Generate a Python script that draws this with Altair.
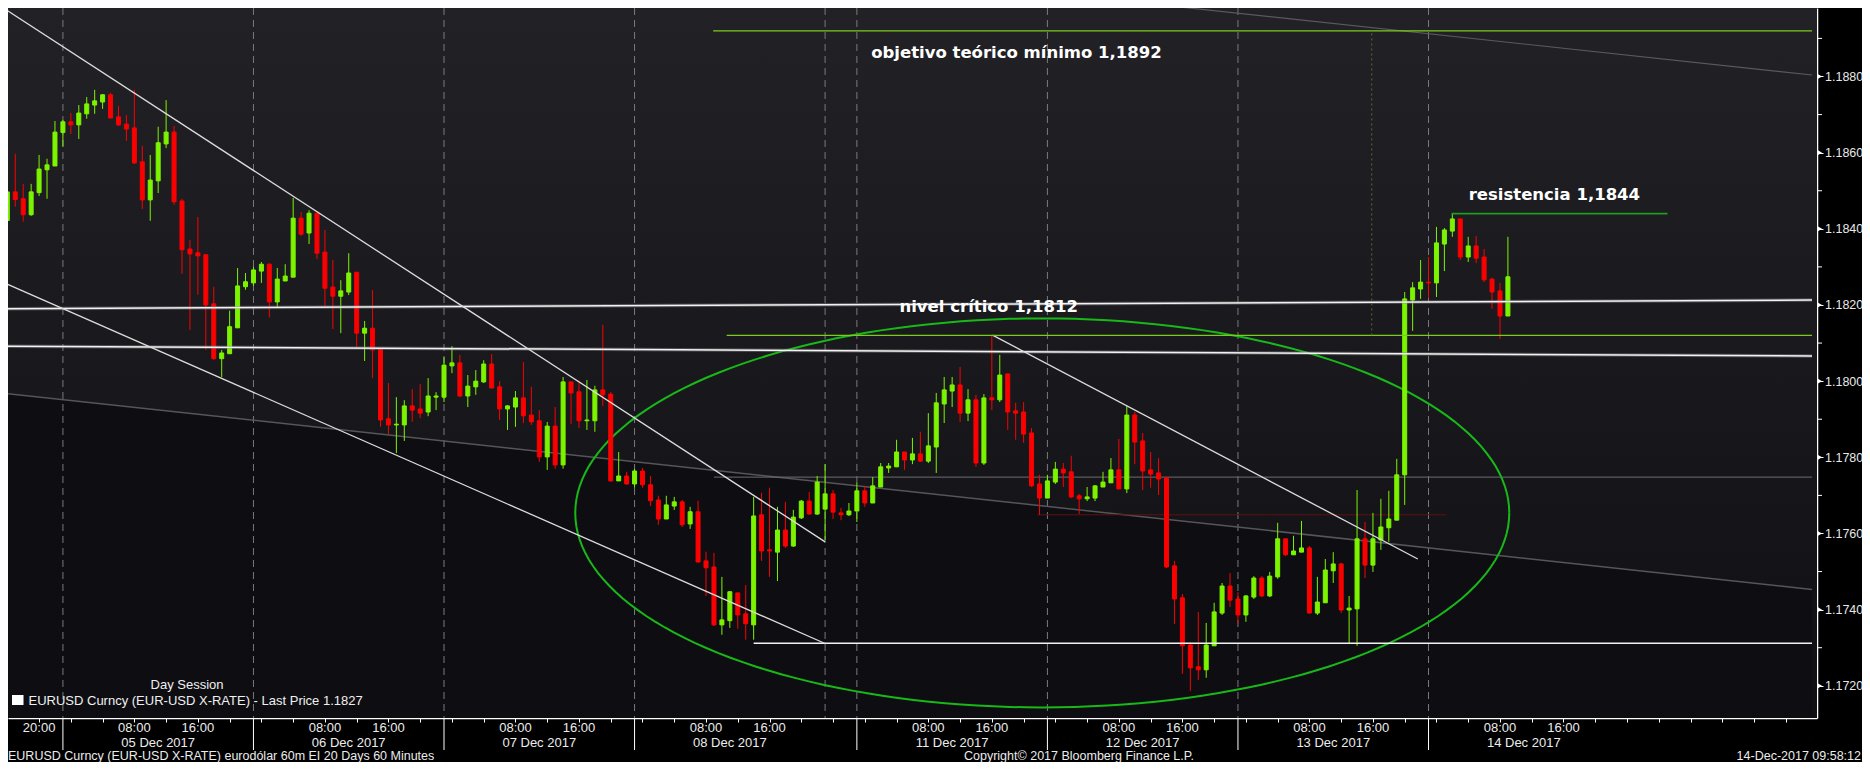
import numpy as np
import pandas as pd
import altair as alt

# ---------------- data (EURUSD 60m candles) ----------------
opens = [
1.18422, 1.18497, 1.18479, 1.18437, 1.18495, 1.18555, 1.18565, 1.18653, 1.18681, 1.18673,
1.18702, 1.18725, 1.18733, 1.18752, 1.18694, 1.18675, 1.18665, 1.18576, 1.18476, 1.18526,
1.18623, 1.18654, 1.18473, 1.18347, 1.18337, 1.18332, 1.18203, 1.18059, 1.18072, 1.18140,
1.18248, 1.18258, 1.18289, 1.18307, 1.18208, 1.18263, 1.18273, 1.18428, 1.18389, 1.18441,
1.18339, 1.18247, 1.18223, 1.18234, 1.18286, 1.18126, 1.18139, 1.18084, 1.17901, 1.17885,
1.17885, 1.17935, 1.17927, 1.17919, 1.17958, 1.17958, 1.18040, 1.18048, 1.17961, 1.17985,
1.17998, 1.18045, 1.17985, 1.17927, 1.17932, 1.17956, 1.17911, 1.17896, 1.17801, 1.17882,
1.17780, 1.17998, 1.17972, 1.17896, 1.17896, 1.17977, 1.17966, 1.17738, 1.17751, 1.17730,
1.17764, 1.17728, 1.17688, 1.17638, 1.17672, 1.17683, 1.17625, 1.17657, 1.17528, 1.17512,
1.17360, 1.17371, 1.17444, 1.17389, 1.17360, 1.17649, 1.17557, 1.17551, 1.17609, 1.17567,
1.17641, 1.17685, 1.17651, 1.17664, 1.17704, 1.17654, 1.17649, 1.17659, 1.17712, 1.17680,
1.17722, 1.17772, 1.17775, 1.17814, 1.17793, 1.17809, 1.17790, 1.17827, 1.17940, 1.17974,
1.17990, 1.17916, 1.17951, 1.17785, 1.17956, 1.17951, 1.18019, 1.17922, 1.17919, 1.17864,
1.17730, 1.17693, 1.17735, 1.17769, 1.17762, 1.17699, 1.17691, 1.17693, 1.17722, 1.17733,
1.17767, 1.17717, 1.17911, 1.17843, 1.17767, 1.17759, 1.17746, 1.17515, 1.17431, 1.17307,
1.17250, 1.17242, 1.17305, 1.17391, 1.17462, 1.17428, 1.17386, 1.17433, 1.17483, 1.17436,
1.17486, 1.17586, 1.17544, 1.17551, 1.17562, 1.17391, 1.17418, 1.17502, 1.17520, 1.17399,
1.17402, 1.17586, 1.17517, 1.17583, 1.17615, 1.17635, 1.17754, 1.18213, 1.18242, 1.18260,
1.18258, 1.18360, 1.18394, 1.18426, 1.18326, 1.18355, 1.18326, 1.18268, 1.18237, 1.18171,
]
highs = [
1.18529, 1.18597, 1.18518, 1.18518, 1.18594, 1.18584, 1.18683, 1.18686, 1.18704, 1.18725,
1.18746, 1.18765, 1.18754, 1.18757, 1.18723, 1.18699, 1.18765, 1.18618, 1.18594, 1.18668,
1.18738, 1.18670, 1.18479, 1.18371, 1.18431, 1.18332, 1.18248, 1.18082, 1.18185, 1.18297,
1.18284, 1.18300, 1.18313, 1.18310, 1.18297, 1.18307, 1.18481, 1.18444, 1.18449, 1.18441,
1.18397, 1.18318, 1.18265, 1.18336, 1.18286, 1.18158, 1.18239, 1.18084, 1.17995, 1.17958,
1.17950, 1.17979, 1.17992, 1.18008, 1.17971, 1.18063, 1.18092, 1.18069, 1.18016, 1.18029,
1.18055, 1.18071, 1.18000, 1.17937, 1.17974, 1.18050, 1.17985, 1.17924, 1.17893, 1.17932,
1.18011, 1.17998, 1.18001, 1.18003, 1.17988, 1.18148, 1.17972, 1.17814, 1.17762, 1.17770,
1.17772, 1.17751, 1.17699, 1.17699, 1.17696, 1.17688, 1.17670, 1.17686, 1.17552, 1.17549,
1.17486, 1.17449, 1.17444, 1.17465, 1.17696, 1.17707, 1.17720, 1.17670, 1.17683, 1.17662,
1.17688, 1.17709, 1.17751, 1.17782, 1.17714, 1.17667, 1.17680, 1.17733, 1.17725, 1.17748,
1.17785, 1.17785, 1.17846, 1.17814, 1.17851, 1.17867, 1.17916, 1.17969, 1.18011, 1.18011,
1.18037, 1.17979, 1.17964, 1.17966, 1.18121, 1.18069, 1.18019, 1.17943, 1.17945, 1.17877,
1.17754, 1.17754, 1.17788, 1.17785, 1.17804, 1.17704, 1.17722, 1.17727, 1.17762, 1.17798,
1.17848, 1.17935, 1.17919, 1.17864, 1.17814, 1.17798, 1.17746, 1.17528, 1.17441, 1.17315,
1.17394, 1.17365, 1.17418, 1.17470, 1.17496, 1.17446, 1.17438, 1.17488, 1.17488, 1.17499,
1.17628, 1.17586, 1.17594, 1.17633, 1.17567, 1.17486, 1.17533, 1.17551, 1.17523, 1.17436,
1.17714, 1.17630, 1.17654, 1.17691, 1.17712, 1.17796, 1.18234, 1.18260, 1.18318, 1.18326,
1.18405, 1.18402, 1.18439, 1.18426, 1.18379, 1.18381, 1.18347, 1.18271, 1.18258, 1.18379,
]
lows = [
1.18295, 1.18458, 1.18419, 1.18434, 1.18486, 1.18479, 1.18565, 1.18616, 1.18649, 1.18636,
1.18689, 1.18702, 1.18715, 1.18691, 1.18670, 1.18631, 1.18570, 1.18452, 1.18421, 1.18494,
1.18612, 1.18463, 1.18282, 1.18135, 1.18227, 1.18082, 1.18056, 1.18011, 1.18072, 1.18140,
1.18240, 1.18250, 1.18258, 1.18167, 1.18195, 1.18263, 1.18273, 1.18381, 1.18360, 1.18321,
1.18197, 1.18137, 1.18126, 1.18226, 1.18090, 1.18053, 1.18008, 1.17880, 1.17861, 1.17811,
1.17843, 1.17893, 1.17903, 1.17908, 1.17924, 1.17945, 1.18021, 1.17958, 1.17932, 1.17964,
1.17995, 1.17982, 1.17898, 1.17872, 1.17880, 1.17890, 1.17885, 1.17788, 1.17767, 1.17770,
1.17770, 1.17888, 1.17877, 1.17872, 1.17867, 1.17935, 1.17736, 1.17738, 1.17728, 1.17720,
1.17720, 1.17672, 1.17623, 1.17638, 1.17662, 1.17617, 1.17612, 1.17525, 1.17436, 1.17357,
1.17334, 1.17352, 1.17350, 1.17321, 1.17321, 1.17528, 1.17486, 1.17475, 1.17562, 1.17565,
1.17638, 1.17649, 1.17649, 1.17583, 1.17638, 1.17635, 1.17646, 1.17630, 1.17670, 1.17680,
1.17722, 1.17759, 1.17775, 1.17767, 1.17782, 1.17788, 1.17785, 1.17759, 1.17890, 1.17932,
1.17893, 1.17895, 1.17775, 1.17780, 1.17924, 1.17945, 1.17872, 1.17846, 1.17838, 1.17722,
1.17649, 1.17693, 1.17730, 1.17722, 1.17693, 1.17651, 1.17685, 1.17685, 1.17722, 1.17733,
1.17717, 1.17706, 1.17782, 1.17714, 1.17720, 1.17701, 1.17509, 1.17362, 1.17231, 1.17186,
1.17215, 1.17221, 1.17305, 1.17386, 1.17407, 1.17365, 1.17368, 1.17428, 1.17433, 1.17433,
1.17481, 1.17541, 1.17544, 1.17551, 1.17389, 1.17386, 1.17418, 1.17470, 1.17391, 1.17312,
1.17305, 1.17483, 1.17499, 1.17557, 1.17578, 1.17635, 1.17675, 1.18132, 1.18216, 1.18218,
1.18221, 1.18289, 1.18379, 1.18318, 1.18313, 1.18310, 1.18260, 1.18190, 1.18111, 1.18171,
]
closes = [
1.18497, 1.18477, 1.18437, 1.18497, 1.18557, 1.18568, 1.18654, 1.18681, 1.18673, 1.18704,
1.18728, 1.18736, 1.18752, 1.18691, 1.18673, 1.18662, 1.18573, 1.18476, 1.18528, 1.18626,
1.18654, 1.18471, 1.18345, 1.18334, 1.18329, 1.18200, 1.18059, 1.18074, 1.18143, 1.18250,
1.18261, 1.18292, 1.18307, 1.18208, 1.18268, 1.18276, 1.18428, 1.18386, 1.18441, 1.18336,
1.18244, 1.18223, 1.18237, 1.18284, 1.18126, 1.18139, 1.18082, 1.17898, 1.17885, 1.17887,
1.17935, 1.17924, 1.17916, 1.17961, 1.17961, 1.18042, 1.18048, 1.17961, 1.17987, 1.18000,
1.18045, 1.17982, 1.17927, 1.17935, 1.17956, 1.17909, 1.17893, 1.17801, 1.17882, 1.17780,
1.17998, 1.17969, 1.17896, 1.17898, 1.17977, 1.17964, 1.17738, 1.17751, 1.17730, 1.17764,
1.17728, 1.17686, 1.17638, 1.17675, 1.17683, 1.17623, 1.17657, 1.17525, 1.17510, 1.17360,
1.17373, 1.17447, 1.17386, 1.17363, 1.17646, 1.17554, 1.17554, 1.17609, 1.17567, 1.17643,
1.17685, 1.17651, 1.17735, 1.17704, 1.17656, 1.17649, 1.17659, 1.17712, 1.17680, 1.17725,
1.17775, 1.17777, 1.17814, 1.17793, 1.17809, 1.17790, 1.17830, 1.17943, 1.17977, 1.17990,
1.17916, 1.17951, 1.17785, 1.17956, 1.17951, 1.18016, 1.17919, 1.17916, 1.17861, 1.17725,
1.17693, 1.17738, 1.17769, 1.17759, 1.17696, 1.17691, 1.17696, 1.17725, 1.17735, 1.17767,
1.17717, 1.17911, 1.17840, 1.17764, 1.17756, 1.17743, 1.17512, 1.17428, 1.17305, 1.17247,
1.17242, 1.17307, 1.17394, 1.17462, 1.17425, 1.17386, 1.17436, 1.17483, 1.17436, 1.17488,
1.17586, 1.17544, 1.17554, 1.17562, 1.17391, 1.17420, 1.17504, 1.17520, 1.17399, 1.17404,
1.17586, 1.17517, 1.17586, 1.17617, 1.17638, 1.17754, 1.18216, 1.18245, 1.18260, 1.18258,
1.18363, 1.18397, 1.18426, 1.18326, 1.18355, 1.18323, 1.18266, 1.18234, 1.18171, 1.18274,
]

# x axis: candle slots (1 slot = 1 hour)
time_label_idx = [5, 17, 25, 41, 49, 65, 73, 89, 97, 117, 125, 141, 149, 165, 173, 189, 197]
time_label_txt = ["20:00", "08:00", "16:00", "08:00", "16:00", "08:00", "16:00", "08:00", "16:00",
                  "08:00", "16:00", "08:00", "16:00", "08:00", "16:00", "08:00", "16:00"]
date_label_idx = [20, 44, 68, 92, 120, 144, 168, 192]
date_label_txt = ["05 Dec 2017", "06 Dec 2017", "07 Dec 2017", "08 Dec 2017",
                  "11 Dec 2017", "12 Dec 2017", "13 Dec 2017", "14 Dec 2017"]
session_sep_idx = [8, 32, 56, 80, 104, 108, 132, 156, 180]
day_sep_idx = [8, 32, 56, 80, 108, 132, 156, 180]
hour_tick_idx = list(range(1, 229, 4))

price_ticks = [1.1720, 1.1740, 1.1760, 1.1780, 1.1800, 1.1820, 1.1840, 1.1860, 1.1880]
price_minor = [1.1730, 1.1750, 1.1770, 1.1790, 1.1810, 1.1830, 1.1850, 1.1870, 1.1890]

# drawn lines: start slot, start price, end slot, end price
trend_x1 = [0.712, 0.712, 125.09]
trend_p1 = [1.18977, 1.18257, 1.18121]
trend_x2 = [104.0, 104.0, 178.65]
trend_p2 = [1.17578, 1.17311, 1.17533]

hline_x1 = [0.712, 0.712, 95.0]
hline_p1 = [1.18190, 1.18092, 1.17312]
hline_x2 = [228.3, 228.3, 228.3]
hline_p2 = [1.18213, 1.18066, 1.17312]

gray_x1 = [0.712, 90.0, 140.4]
gray_p1 = [1.17968, 1.17748, 1.19001]
gray_x2 = [228.3, 228.3, 228.3]
gray_p2 = [1.17453, 1.17748, 1.18804]

lime_x1 = [89.9, 91.6]
lime_p = [1.1892, 1.1812]
resist_x = [182.9, 210.1]
resist_p = 1.1844
redline_x = [130.7, 182.2]
redline_p = 1.17649
dotted_x = 172.85
dotted_p = [1.1812, 1.1892]

ellipse_center = (131.35, 1.17654)
ellipse_radii = (58.82, 0.005108)

notes_txt = ["objetivo teórico mínimo 1,1892", "nivel crítico 1,1812", "resistencia 1,1844"]
notes_x = [128.1, 124.6, 195.85]
notes_p = [1.18863, 1.18196, 1.18488]

# ---------------- build ----------------
W, H = 1809, 710
FONT = "Liberation Sans, Arial, sans-serif"
GREEN, RED = "#7cf400", "#fa0000"
WHITE = "#f2f2f2"

candles = pd.DataFrame({"idx": np.arange(1, len(opens) + 1), "open": opens,
                        "high": highs, "low": lows, "close": closes})
candles["dir"] = np.where(candles["close"] >= candles["open"], "up", "down")
candles["top"] = candles[["open", "close"]].max(axis=1)
candles["bot"] = candles[["open", "close"]].min(axis=1)

xscale = alt.Scale(domain=[1.714, 228.3], nice=False, zero=False)
yscale = alt.Scale(domain=[1.1711543, 1.1897988], nice=False, zero=False)
xaxis = alt.Axis(values=hour_tick_idx, labels=False, tickSize=4, tickColor="#ffffff",
                 tickWidth=1, domainColor="#ffffff", domainWidth=1.5, grid=False, title=None)
yaxis = alt.Axis(orient="right", values=price_ticks, format=".4f", tickSize=6,
                 tickColor="#ffffff", tickWidth=1, domainColor="#ffffff", domainWidth=1.5,
                 labelColor="#e8e8e8", labelFont=FONT, labelFontSize=12.5, labelPadding=1.5,
                 grid=False, title=None)


def X(f):
    return alt.X(f, type="quantitative", scale=xscale, axis=xaxis)


def Y(f):
    return alt.Y(f, type="quantitative", scale=yscale, axis=yaxis)


one = pd.DataFrame({"a": [0]})
layers = []

bg = alt.Chart(one).mark_rect(color={
    "gradient": "linear", "x1": 0, "x2": 0, "y1": 0, "y2": 1,
    "stops": [{"offset": 0, "color": "#222226"}, {"offset": 0.5, "color": "#19191d"},
              {"offset": 1, "color": "#101014"}]}).encode(
    x=alt.value(0), x2=alt.value(W), y=alt.value(0), y2=alt.value(H))
layers.append(bg)

under = pd.DataFrame({"x": [gray_x1[0], gray_x2[0]], "p": [gray_p1[0], gray_p2[0]]})
layers.append(alt.Chart(under).mark_area(clip=True, color={
    "gradient": "linear", "x1": 0, "x2": 0, "y1": 0, "y2": 1,
    "stops": [{"offset": 0, "color": "#0e0e12"}, {"offset": 1, "color": "#040406"}]}).encode(
    x=X("x"), y=Y("p"), y2=alt.value(H)))

layers.append(alt.Chart(pd.DataFrame({"idx": session_sep_idx})).mark_rule(
    color="#7a7a7a", strokeWidth=1, strokeDash=[7, 5]).encode(x=X("idx")))

def seg_chart(x1, p1, x2, p2, **style):
    df = pd.DataFrame({"x1": x1, "p1": p1, "x2": x2, "p2": p2})
    return alt.Chart(df).mark_rule(clip=True, **style).encode(
        x=X("x1"), x2="x2", y=Y("p1"), y2="p2")

layers.append(seg_chart(gray_x1[:1], gray_p1[:1], gray_x2[:1], gray_p2[:1], color="#56565a", strokeWidth=1.5))
layers.append(seg_chart(gray_x1[1:2], gray_p1[1:2], gray_x2[1:2], gray_p2[1:2], color="#6e6e72", strokeWidth=1))
layers.append(seg_chart(gray_x1[2:], gray_p1[2:], gray_x2[2:], gray_p2[2:], color="#5a5a5e", strokeWidth=1.2))
layers.append(seg_chart([redline_x[0]], [redline_p], [redline_x[1]], [redline_p], color="#5e1212", strokeWidth=1))

t = np.linspace(0, 2 * np.pi, 181)
ell = pd.DataFrame({"k": np.arange(len(t)),
                    "ex": ellipse_center[0] + ellipse_radii[0] * np.cos(t),
                    "ey": ellipse_center[1] + ellipse_radii[1] * np.sin(t)})
layers.append(alt.Chart(ell).mark_line(clip=True, color="#18b818", strokeWidth=2).encode(
    x=X("ex"), y=Y("ey"), order=alt.Order("k:Q")))

cscale = alt.Scale(domain=["up", "down"], range=[GREEN, RED])
layers.append(alt.Chart(candles).mark_rule(clip=True, strokeWidth=1).encode(
    x=X("idx"), y=Y("low"), y2="high", color=alt.Color("dir:N", scale=cscale, legend=None)))
layers.append(alt.Chart(candles).mark_bar(clip=True, size=4, strokeWidth=1).encode(
    x=X("idx"), y=Y("bot"), y2="top",
    color=alt.Color("dir:N", scale=cscale, legend=None),
    stroke=alt.Stroke("dir:N", scale=cscale, legend=None)))

# white lines
layers.append(seg_chart(hline_x1[:2], hline_p1[:2], hline_x2[:2], hline_p2[:2], color="#8a8a8e", strokeWidth=3.5, opacity=0.45))
layers.append(seg_chart(hline_x1, hline_p1, hline_x2, hline_p2, color=WHITE, strokeWidth=1.5))
layers.append(seg_chart(trend_x1, trend_p1, trend_x2, trend_p2, color="#dcdcdc", strokeWidth=1.3))
layers.append(seg_chart(lime_x1, lime_p, [228.3, 228.3], lime_p, color="#7acc1c", strokeWidth=1.3))
layers.append(seg_chart([resist_x[0]], [resist_p], [resist_x[1]], [resist_p], color="#1c9e1c", strokeWidth=1.6))
layers.append(seg_chart([dotted_x], [dotted_p[0]], [dotted_x], [dotted_p[1]], color="#66662e",
                        strokeWidth=1, strokeDash=[2, 3]))

notes = pd.DataFrame({"x": notes_x, "p": notes_p, "t": notes_txt})
layers.append(alt.Chart(notes).mark_text(font="DejaVu Sans", fontWeight="bold", fontSize=16.5,
                                         color="#ffffff", align="center", baseline="middle").encode(
    x=X("x"), y=Y("p"), text="t:N"))

# y minor ticks and tick arrows
layers.append(alt.Chart(pd.DataFrame({"p": price_minor})).mark_rule(color="#ffffff", strokeWidth=1).encode(
    y=Y("p"), x=alt.value(W), x2=alt.value(W + 5)))
layers.append(alt.Chart(pd.DataFrame({"p": price_ticks})).mark_point(
    shape="triangle-right", filled=True, size=22, color="#ffffff", opacity=1).encode(
    y=Y("p"), x=alt.value(W + 3)))

# x axis labels and day separators below the plot
layers.append(alt.Chart(pd.DataFrame({"idx": day_sep_idx})).mark_rule(color="#ffffff", strokeWidth=1).encode(
    x=X("idx"), y=alt.value(H), y2=alt.value(H + 32)))
layers.append(alt.Chart(pd.DataFrame({"idx": time_label_idx, "t": time_label_txt})).mark_text(
    font=FONT, fontSize=13, color="#ececec", align="center", baseline="middle").encode(
    x=X("idx"), y=alt.value(H + 9.5), text="t:N"))
layers.append(alt.Chart(pd.DataFrame({"idx": date_label_idx, "t": date_label_txt})).mark_text(
    font=FONT, fontSize=13, color="#ececec", align="center", baseline="middle").encode(
    x=X("idx"), y=alt.value(H + 24.5), text="t:N"))

# legend inside plot
layers.append(alt.Chart(one).mark_rect(color="#ffffff").encode(
    x=alt.value(4), x2=alt.value(15.5), y=alt.value(687), y2=alt.value(697)))
layers.append(alt.Chart(one).mark_text(font=FONT, fontSize=13, color="#f0f0f0", align="left",
                                       baseline="middle", text="EURUSD Curncy (EUR-USD X-RATE) - Last Price 1.1827").encode(
    x=alt.value(20.5), y=alt.value(692.5)))
layers.append(alt.Chart(one).mark_text(font=FONT, fontSize=13, color="#f0f0f0", align="center",
                                       baseline="middle", text="Day Session").encode(
    x=alt.value(179), y=alt.value(677)))

# footer
layers.append(alt.Chart(one).mark_text(font=FONT, fontSize=12.5, color="#ececec", align="left", baseline="middle",
                                       text="EURUSD Curncy (EUR-USD X-RATE) eurodólar 60m EI 20 Days 60 Minutes").encode(
    x=alt.value(0), y=alt.value(H + 37.5)))
layers.append(alt.Chart(one).mark_text(font=FONT, fontSize=12.5, color="#ececec", align="left", baseline="middle",
                                       text="Copyright© 2017 Bloomberg Finance L.P.").encode(
    x=alt.value(956), y=alt.value(H + 37.5)))
layers.append(alt.Chart(one).mark_text(font=FONT, fontSize=12.5, color="#ececec", align="right", baseline="middle",
                                       text="14-Dec-2017 09:58:12").encode(
    x=alt.value(W + 44), y=alt.value(H + 37.5)))

chart = alt.layer(*layers).properties(
    width=W, height=H,
    padding={"left": 0, "top": 0, "right": 45, "bottom": 44},
    autosize=alt.AutoSizeParams(type="none"),
).configure(background="#000000").configure_view(strokeWidth=0)

chart.save("out.html", embed_options={"renderer": "svg", "actions": False})
